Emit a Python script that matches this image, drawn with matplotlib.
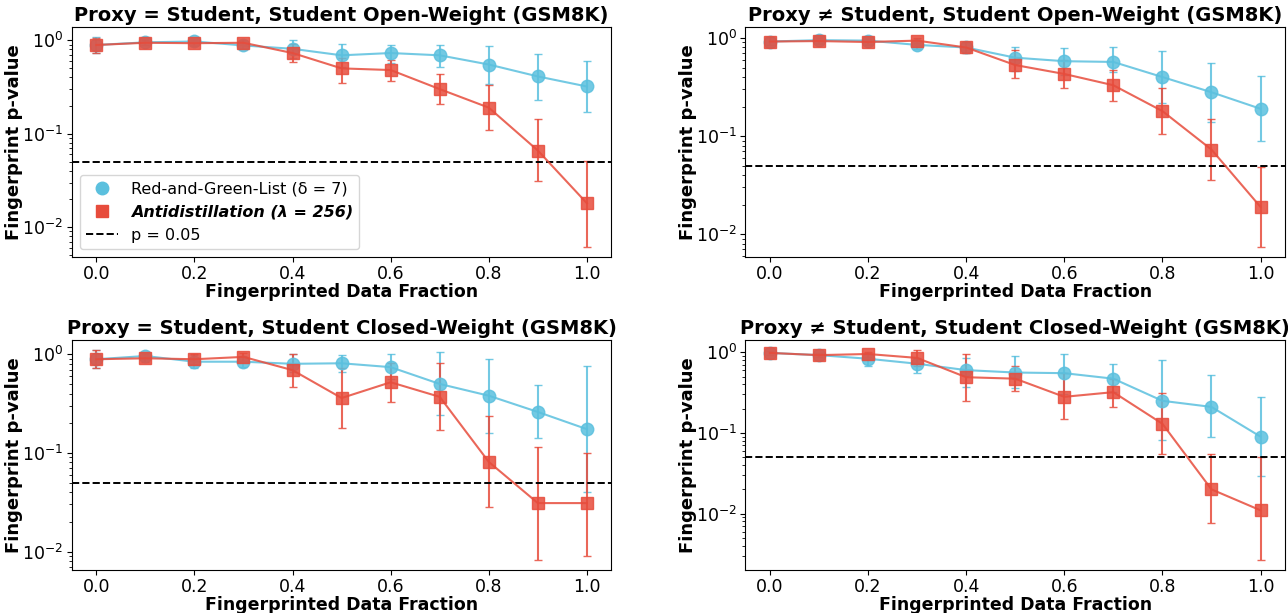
import matplotlib
matplotlib.use("Agg")
import matplotlib.pyplot as plt
from matplotlib.lines import Line2D
import numpy as np

# ---------------------------------------------------------------------------
# Data
# ---------------------------------------------------------------------------
fractions = [0.0, 0.1, 0.2, 0.3, 0.4, 0.5, 0.6, 0.7, 0.8, 0.9, 1.0]

titles = [
    "Proxy = Student, Student Open-Weight (GSM8K)",
    "Proxy \u2260 Student, Student Open-Weight (GSM8K)",
    "Proxy = Student, Student Closed-Weight (GSM8K)",
    "Proxy \u2260 Student, Student Closed-Weight (GSM8K)",
]

# Red-and-Green-List: mean, upper, lower
rg_mean = [
    [0.89, 0.95, 0.97, 0.88, 0.81, 0.69, 0.73, 0.69, 0.55, 0.41, 0.32],
    [0.92, 0.95, 0.94, 0.85, 0.80, 0.63, 0.58, 0.57, 0.40, 0.28, 0.19],
    [0.89, 0.96, 0.84, 0.84, 0.80, 0.81, 0.74, 0.50, 0.38, 0.26, 0.174],
    [0.98, 0.92, 0.83, 0.72, 0.60, 0.56, 0.55, 0.47, 0.25, 0.21, 0.09],
]
rg_upper = [
    [1.08, 1.02, 1.03, 0.97, 1.00, 0.92, 0.89, 0.89, 0.86, 0.72, 0.60],
    [1.02, 1.02, 1.01, 0.93, 0.92, 0.80, 0.79, 0.80, 0.74, 0.56, 0.41],
    [1.10, 1.03, 0.98, 0.95, 1.00, 0.98, 1.00, 1.05, 0.89, 0.49, 0.76],
    [1.03, 0.98, 0.95, 0.85, 0.85, 0.89, 0.96, 0.72, 0.79, 0.52, 0.28],
]
rg_lower = [
    [0.73, 0.88, 0.90, 0.80, 0.65, 0.52, 0.57, 0.52, 0.34, 0.23, 0.17],
    [0.84, 0.88, 0.87, 0.77, 0.70, 0.46, 0.42, 0.45, 0.22, 0.14, 0.089],
    [0.72, 0.89, 0.72, 0.74, 0.66, 0.66, 0.56, 0.24, 0.16, 0.14, 0.040],
    [0.93, 0.86, 0.68, 0.55, 0.37, 0.36, 0.30, 0.32, 0.082, 0.088, 0.029],
]

# Antidistillation: mean, upper, lower
ad_mean = [
    [0.89, 0.94, 0.93, 0.94, 0.73, 0.50, 0.48, 0.30, 0.19, 0.066, 0.018],
    [0.92, 0.93, 0.91, 0.94, 0.80, 0.53, 0.43, 0.33, 0.18, 0.073, 0.019],
    [0.89, 0.91, 0.89, 0.94, 0.69, 0.36, 0.52, 0.37, 0.081, 0.031, 0.031],
    [0.98, 0.92, 0.95, 0.85, 0.49, 0.47, 0.28, 0.32, 0.13, 0.020, 0.011],
]
ad_upper = [
    [1.06, 1.00, 0.99, 1.00, 0.91, 0.65, 0.62, 0.44, 0.33, 0.142, 0.051],
    [1.02, 0.99, 0.98, 1.00, 0.90, 0.75, 0.60, 0.47, 0.31, 0.148, 0.048],
    [1.10, 1.00, 1.00, 1.02, 1.00, 0.72, 0.82, 0.82, 0.234, 0.114, 0.10],
    [1.03, 0.98, 1.02, 1.06, 0.96, 0.68, 0.55, 0.46, 0.31, 0.055, 0.051],
]
ad_lower = [
    [0.73, 0.88, 0.86, 0.88, 0.58, 0.35, 0.37, 0.21, 0.11, 0.031, 0.0062],
    [0.84, 0.87, 0.84, 0.88, 0.70, 0.39, 0.31, 0.23, 0.105, 0.036, 0.0075],
    [0.72, 0.84, 0.80, 0.86, 0.47, 0.178, 0.33, 0.17, 0.028, 0.0083, 0.0091],
    [0.93, 0.86, 0.88, 0.68, 0.25, 0.33, 0.15, 0.21, 0.055, 0.0076, 0.0027],
]

threshold = 0.05

BLUE = "#5bc0de"
RED = "#e74c3c"

# ---------------------------------------------------------------------------
# Plot
# ---------------------------------------------------------------------------
fig, axes = plt.subplots(2, 2, figsize=(12.88, 6.13), dpi=100)
fig.subplots_adjust(left=0.0557, right=0.9977, top=0.9565, bottom=0.0701,
                    wspace=0.248, hspace=0.359)

x = np.array(fractions)
for i, ax in enumerate(axes.flat):
    for mean, up, lo, color, marker in [
        (rg_mean[i], rg_upper[i], rg_lower[i], BLUE, "o"),
        (ad_mean[i], ad_upper[i], ad_lower[i], RED, "s"),
    ]:
        m = np.array(mean)
        yerr = np.vstack([m - np.array(lo), np.array(up) - m])
        ax.errorbar(x, m, yerr=yerr, color=color, marker=marker,
                    markersize=9, linewidth=1.5, capsize=3, elinewidth=1.5,
                    alpha=0.85)
    ax.axhline(threshold, color="black", linestyle="--", linewidth=1.4)
    ax.set_yscale("log")
    ax.set_title(titles[i], fontsize=14, fontweight="bold", pad=4)
    ax.set_xlabel("Fingerprinted Data Fraction", fontsize=12.5,
                  fontweight="bold", labelpad=-0.5)
    ax.set_ylabel("Fingerprint p-value", fontsize=13, fontweight="bold")
    ax.yaxis.set_label_coords(-0.09, 0.5)
    ax.tick_params(labelsize=12.5, pad=2.5)

handles = [
    Line2D([], [], color=BLUE, marker="o", linestyle="none", markersize=9),
    Line2D([], [], color=RED, marker="s", linestyle="none", markersize=9),
    Line2D([], [], color="black", linestyle="--", linewidth=1.4),
]
leg = axes[0, 0].legend(
    handles,
    ["Red-and-Green-List (\u03b4 = 7)", "Antidistillation (\u03bb = 256)",
     "p = 0.05"],
    loc="lower left", fontsize=11.5,
)
leg.get_texts()[1].set_fontweight("bold")
leg.get_texts()[1].set_fontstyle("italic")

fig.savefig("out.png", dpi=100)
